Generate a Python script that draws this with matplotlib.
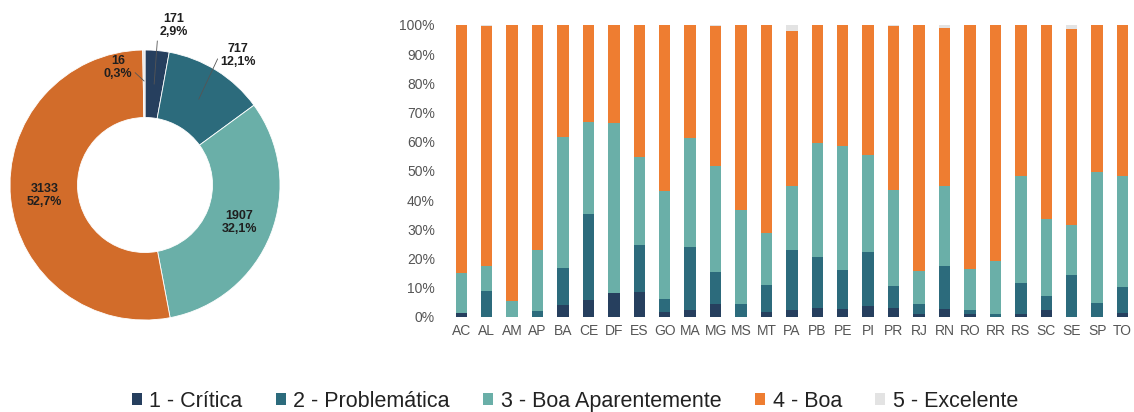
import matplotlib.pyplot as plt
import numpy as np
from matplotlib.patches import Patch

plt.rcParams['font.family'] = ['Liberation Sans', 'DejaVu Sans']

# overall counts per class
classes = ['1 - Crítica', '2 - Problemática', '3 - Boa Aparentemente', '4 - Boa', '5 - Excelente']
totals = [171, 717, 1907, 3133, 16]
total_pct = ['2,9%', '12,1%', '32,1%', '52,7%', '0,3%']

# share of each class per state (%)
states = ['AC', 'AL', 'AM', 'AP', 'BA', 'CE', 'DF', 'ES', 'GO', 'MA', 'MG', 'MS', 'MT',
          'PA', 'PB', 'PE', 'PI', 'PR', 'RJ', 'RN', 'RO', 'RR', 'RS', 'SC', 'SE', 'SP', 'TO']
critica = [1.5, 0, 0, 0, 4.2, 5.7, 8.1, 8.4, 1.7, 2.5, 4.6, 0, 1.6,
           2.3, 3.0, 2.7, 3.8, 3.0, 0.9, 2.7, 1.1, 0, 1.1, 2.3, 0, 0, 1.5]
problematica = [0, 8.8, 0, 2.0, 12.5, 29.5, 0, 16.2, 4.4, 21.4, 10.7, 4.6, 9.3,
                20.6, 17.6, 13.3, 18.3, 7.5, 3.7, 14.8, 1.2, 1.1, 10.6, 4.8, 14.5, 4.8, 8.8]
boa_aparente = [13.4, 8.8, 5.5, 21.1, 45.0, 31.7, 58.4, 30.3, 36.9, 37.3, 36.5, 32.2, 17.7,
                22.0, 38.9, 42.7, 33.3, 33.0, 11.2, 27.4, 14.3, 18.0, 36.7, 26.3, 17.1, 44.9, 38.1]
boa = [85.1, 81.9, 94.5, 76.9, 38.3, 33.1, 33.5, 45.1, 57.0, 38.8, 47.9, 63.2, 71.4,
       52.9, 40.5, 41.3, 44.6, 56.2, 84.2, 54.1, 83.4, 80.9, 51.6, 66.6, 67.2, 50.3, 51.6]
excelente = [0, 0.5, 0, 0, 0, 0, 0, 0, 0, 0, 0.3, 0, 0,
             2.2, 0, 0, 0, 0.3, 0, 1.0, 0, 0, 0, 0, 1.2, 0, 0]

bar_colors = ['#263F5E', '#2C6B7C', '#6AAFA8', '#EE7D31', '#E3E3E3']
pie_colors = ['#263F5E', '#2C6B7C', '#6AAFA8', '#D26C2A', '#E3E3E3']

fig = plt.figure(figsize=(11.34, 4.12), dpi=100)

# ---- donut ----
ax1 = fig.add_axes([0, 0.199, 290 / 1134, 290 / 412])
wedges, _ = ax1.pie(totals, colors=pie_colors, startangle=90, counterclock=False,
                    radius=1, wedgeprops=dict(width=0.5, edgecolor='white', linewidth=0.6))
ax1.set_xlim(-1.074, 1.074)
ax1.set_ylim(-1.074, 1.074)
ax1.set_aspect('equal')

def mid_point(w, r):
    ang = np.deg2rad((w.theta1 + w.theta2) / 2)
    return r * np.cos(ang), r * np.sin(ang)

lbl = dict(fontsize=9, fontweight='bold', color='#1f1f1f', ha='center', va='center',
           linespacing=1.1)
line = dict(arrowstyle='-', color='#555555', lw=0.6, shrinkA=0, shrinkB=0)

# big wedges: label inside the ring
for i in (2, 3):
    x, y = mid_point(wedges[i], 0.75)
    ax1.text(x, y, f'{totals[i]}\n{total_pct[i]}', **lbl)

# small wedges: label outside with leader line
ax1.annotate(f'{totals[0]}\n{total_pct[0]}', xy=mid_point(wedges[0], 0.75),
             xytext=(0.21, 1.18), arrowprops=dict(line, relpos=(0, 0.9)), **lbl)
ax1.annotate(f'{totals[1]}\n{total_pct[1]}', xy=mid_point(wedges[1], 0.75),
             xytext=(0.69, 0.96), arrowprops=dict(line, relpos=(0, 0.6)), **lbl)
ax1.annotate(f'{totals[4]}\n{total_pct[4]}', xy=mid_point(wedges[4], 0.77),
             xytext=(-0.2, 0.87), arrowprops=dict(line, relpos=(1, 0.4)), **lbl)

# ---- stacked bars ----
ax2 = fig.add_axes([446 / 1134, 95 / 412, 688 / 1134, 292 / 412])
x = np.arange(len(states))
bottom = np.zeros(len(states))
for vals, c in zip([critica, problematica, boa_aparente, boa, excelente], bar_colors):
    vals = np.array(vals)
    ax2.bar(x, vals, bottom=bottom, width=0.45, color=c, linewidth=0)
    bottom += vals

ax2.set_xlim(-0.6, 26.45)
ax2.set_ylim(0, 100)
ax2.set_yticks(np.arange(0, 101, 10))
ax2.set_yticklabels([f'{v}%' for v in range(0, 101, 10)])
ax2.set_xticks(x)
ax2.set_xticklabels(states)
ax2.tick_params(length=0, labelsize=10, colors='#555555', pad=5)
ax2.tick_params(axis='y', pad=8)
for s in ax2.spines.values():
    s.set_visible(False)

handles = [Patch(facecolor=c, edgecolor='none') for c in bar_colors]
fig.legend(handles, classes, loc='center', bbox_to_anchor=(0.507, 0.026), ncol=5,
           frameon=False, fontsize=15.5, handlelength=0.47, handleheight=0.47,
           handletextpad=0.35, columnspacing=1.55, labelcolor='#222222',
           borderaxespad=0, borderpad=0)

fig.savefig('out.png', dpi=100)
